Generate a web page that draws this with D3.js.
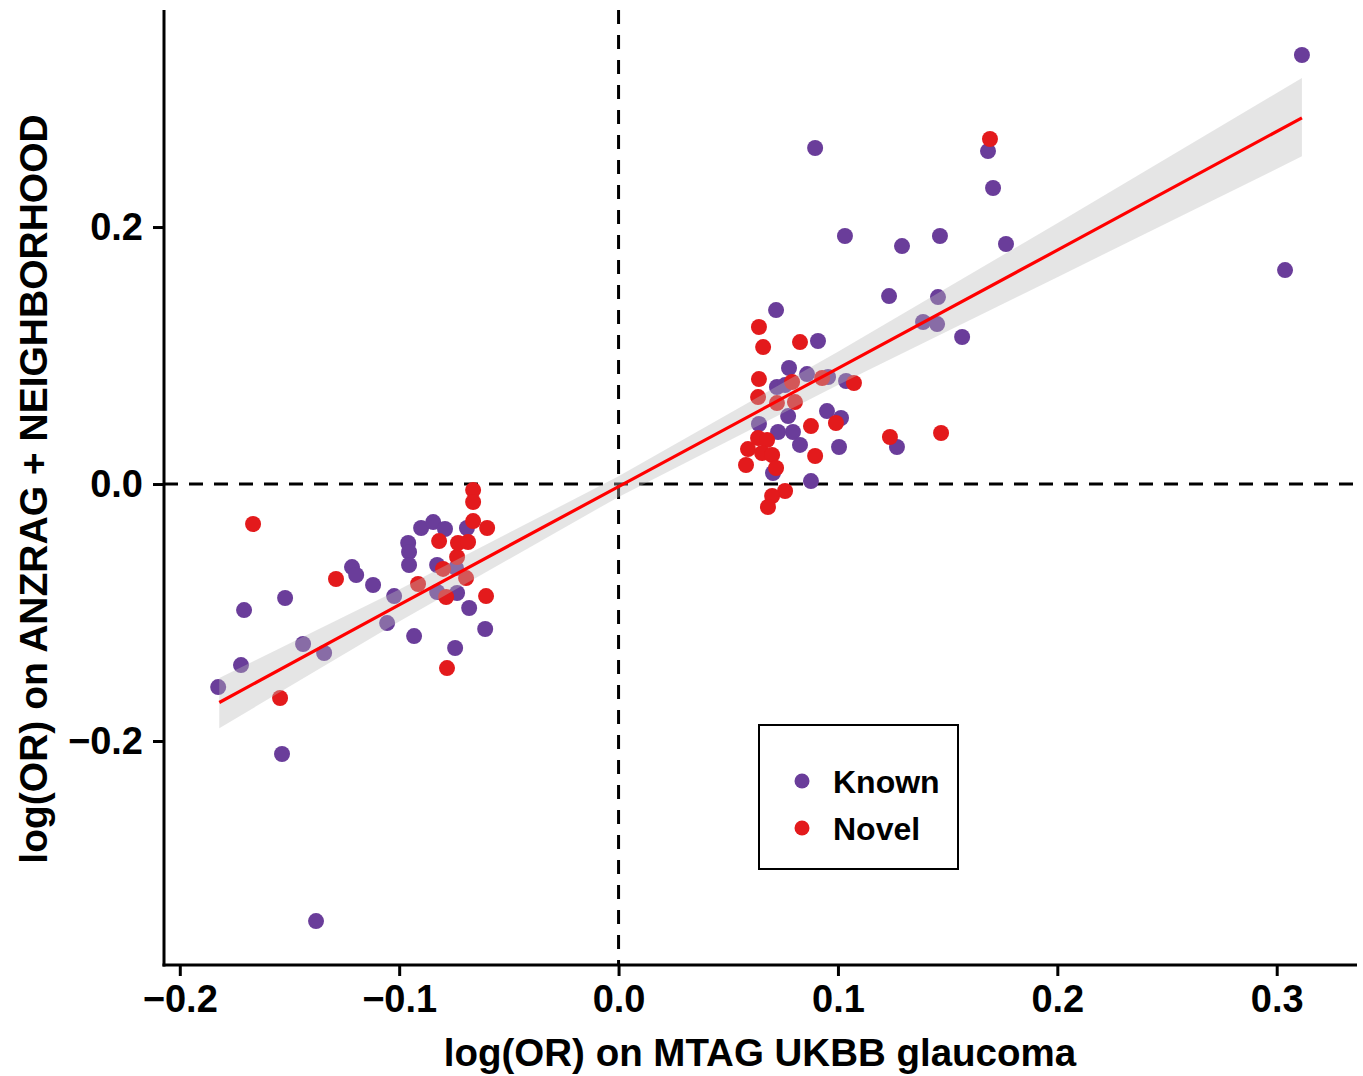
<!DOCTYPE html>
<html>
<head>
<meta charset="utf-8">
<script src="https://cdn.jsdelivr.net/npm/d3@7"></script>
<style>
  body { margin: 0; background: #fff; }
  text { font-family: "Liberation Sans", Arial, Helvetica, sans-serif; font-weight: bold; }
</style>
</head>
<body>
<script>
// Known loci: log(OR) in MTAG UKBB (x) vs ANZRAG + NEIGHBORHOOD (y)
const knownX = [-0.1825, -0.1721, -0.1707, -0.1520, -0.1438, -0.1342, -0.1534, -0.1379, -0.1215, -0.1196,
  -0.1119, -0.1023, -0.1055, -0.0932, -0.0900, -0.0845, -0.0791, -0.0959, -0.0955, -0.0955,
  -0.0827, -0.0741, -0.0827, -0.0736, -0.0681, -0.0608, -0.0745, -0.0691,
  0.0718, 0.0909, 0.0777, 0.0859, 0.0955, 0.1037, 0.0722, 0.0759, 0.0950, 0.1014,
  0.0773, 0.0640, 0.0727, 0.0795, 0.0827, 0.1005, 0.0704, 0.0877, 0.1269, 0.0896,
  0.1032, 0.1292, 0.1465, 0.1766, 0.1233, 0.1456, 0.1388, 0.1452, 0.1566, 0.1684,
  0.1707, 0.3115, 0.3038];
const knownY = [-0.1580, -0.1409, -0.0981, -0.0887, -0.1245, -0.1315, -0.2101, -0.3401, -0.0646, -0.0708,
  -0.0786, -0.0872, -0.1082, -0.1183, -0.0342, -0.0296, -0.0350, -0.0459, -0.0529, -0.0630,
  -0.0630, -0.0654, -0.0840, -0.0848, -0.0965, -0.1128, -0.1276, -0.0342,
  0.1354, 0.1113, 0.0903, 0.0856, 0.0833, 0.0802, 0.0755, 0.0770, 0.0568, 0.0514,
  0.0529, 0.0467, 0.0405, 0.0405, 0.0304, 0.0288, 0.0086, 0.0023, 0.0288, 0.2615,
  0.1930, 0.1852, 0.1930, 0.1868, 0.1463, 0.1455, 0.1261, 0.1245, 0.1144, 0.2591,
  0.2304, 0.3339, 0.1665];

// Novel loci
const novelX = [-0.1666, -0.1288, -0.1543, -0.0818, -0.0800, -0.0736, -0.0732, -0.0686, -0.0695, -0.0914,
  -0.0786, -0.0604, -0.0782, -0.0663, -0.0663, -0.0663, -0.0599,
  0.0640, 0.0659, 0.0827, 0.0640, 0.0928, 0.1073, 0.0791, 0.0636, 0.0722, 0.0804,
  0.0991, 0.0877, 0.0636, 0.0677, 0.0590, 0.0654, 0.0700, 0.0896, 0.0581, 0.0718,
  0.0759, 0.0700, 0.0681, 0.1237, 0.1470, 0.1693];
const novelY = [-0.0311, -0.0739, -0.1665, -0.0444, -0.0661, -0.0568, -0.0459, -0.0451, -0.0732, -0.0778,
  -0.0879, -0.0872, -0.1432, -0.0047, -0.0140, -0.0288, -0.0342,
  0.1222, 0.1066, 0.1105, 0.0817, 0.0825, 0.0786, 0.0794, 0.0677, 0.0630, 0.0638,
  0.0475, 0.0451, 0.0358, 0.0342, 0.0272, 0.0241, 0.0226, 0.0218, 0.0148, 0.0125,
  -0.0054, -0.0093, -0.0179, 0.0366, 0.0397, 0.2685];

// Linear fit with confidence band
const fitX = [-0.182, -0.1, 0, 0.1, 0.2, 0.3115];
const fitY = [-0.170, -0.094, -0.002, 0.090, 0.182, 0.285];
const fitLo = [-0.190, -0.107, -0.010, 0.077, 0.161, 0.255];
const fitHi = [-0.151, -0.082, 0.006, 0.103, 0.203, 0.316];

const xTicks = [-0.2, -0.1, 0.0, 0.1, 0.2, 0.3];
const yTicks = [-0.2, 0.0, 0.2];
const groups = ["Known", "Novel"];
const groupColors = ["#6a3d9a", "#e31a1c"];

const W = 1363, H = 1076;
const pLeft = 164, pRight = 1357, pTop = 10, pBottom = 965;

const x = d3.scaleLinear().domain([-0.2072, 0.3366]).range([pLeft, pRight]);
const y = d3.scaleLinear().domain([-0.3743, 0.3689]).range([pBottom, pTop]);

const svg = d3.select("body").append("svg")
  .attr("width", W)
  .attr("height", H);

// reference lines at zero
svg.append("line")
  .attr("x1", pLeft).attr("x2", pRight)
  .attr("y1", y(0)).attr("y2", y(0))
  .attr("stroke", "#000").attr("stroke-width", 3)
  .attr("stroke-dasharray", "14,11");
svg.append("line")
  .attr("x1", x(0)).attr("x2", x(0))
  .attr("y1", pTop).attr("y2", pBottom)
  .attr("stroke", "#000").attr("stroke-width", 3)
  .attr("stroke-dasharray", "14,11");

// points
const points = [];
knownX.forEach((v, i) => points.push({ x: v, y: knownY[i], g: 0 }));
novelX.forEach((v, i) => points.push({ x: v, y: novelY[i], g: 1 }));

svg.append("g").selectAll("circle")
  .data(points)
  .enter()
  .append("circle")
  .attr("cx", d => x(d.x))
  .attr("cy", d => y(d.y))
  .attr("r", 8)
  .attr("fill", d => groupColors[d.g]);

// confidence ribbon on top of the points
const fit = fitX.map((v, i) => ({ x: v, y: fitY[i], lo: fitLo[i], hi: fitHi[i] }));
svg.append("path")
  .datum(fit)
  .attr("d", d3.area().x(d => x(d.x)).y0(d => y(d.lo)).y1(d => y(d.hi)))
  .attr("fill", "#bbbbbb")
  .attr("fill-opacity", 0.38);

svg.append("path")
  .datum(fit)
  .attr("d", d3.line().x(d => x(d.x)).y(d => y(d.y)))
  .attr("fill", "none")
  .attr("stroke", "#ff0000")
  .attr("stroke-width", 3.2);

// axes
const xAxis = svg.append("g")
  .attr("transform", `translate(0,${pBottom})`)
  .call(d3.axisBottom(x).tickValues(xTicks).tickFormat(d3.format(".1f")).tickSize(11).tickPadding(9));
const yAxis = svg.append("g")
  .attr("transform", `translate(${pLeft},0)`)
  .call(d3.axisLeft(y).tickValues(yTicks).tickFormat(d3.format(".1f")).tickSize(11).tickPadding(10));

[xAxis, yAxis].forEach(a => {
  a.select(".domain").remove();
  a.selectAll(".tick line").attr("stroke", "#000").attr("stroke-width", 3);
  a.selectAll(".tick text")
    .attr("fill", "#000")
    .style("font-size", "38px")
    .style("font-family", "'Liberation Sans', Arial, sans-serif")
    .style("font-weight", "bold");
});

svg.append("line")
  .attr("x1", pLeft).attr("x2", pLeft)
  .attr("y1", pTop).attr("y2", pBottom + 1.5)
  .attr("stroke", "#000").attr("stroke-width", 3);
svg.append("line")
  .attr("x1", pLeft - 1.5).attr("x2", pRight)
  .attr("y1", pBottom).attr("y2", pBottom)
  .attr("stroke", "#000").attr("stroke-width", 3);

// axis titles
svg.append("text")
  .attr("x", 760)
  .attr("y", 1066)
  .attr("text-anchor", "middle")
  .style("font-size", "38.5px")
  .text("log(OR) on MTAG UKBB glaucoma");

svg.append("text")
  .attr("transform", "rotate(-90)")
  .attr("x", -489)
  .attr("y", 47)
  .attr("text-anchor", "middle")
  .style("font-size", "39px")
  .text("log(OR) on ANZRAG + NEIGHBORHOOD");

// legend
const legend = svg.append("g").attr("transform", "translate(759,725)");
legend.append("rect")
  .attr("width", 199)
  .attr("height", 144)
  .attr("fill", "#fff")
  .attr("stroke", "#000")
  .attr("stroke-width", 2);

groups.forEach((g, i) => {
  legend.append("circle")
    .attr("cx", 43)
    .attr("cy", 56 + i * 47)
    .attr("r", 7.5)
    .attr("fill", groupColors[i]);
  legend.append("text")
    .attr("x", 74)
    .attr("y", 56 + i * 47)
    .attr("dy", "0.36em")
    .style("font-size", "32px")
    .text(g);
});
</script>
</body>
</html>
